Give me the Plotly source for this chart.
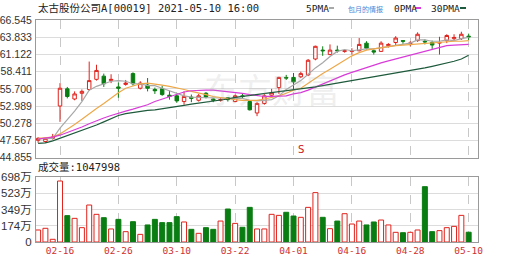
import plotly.graph_objects as go

# ---------------- data ----------------
tick_dates = ["02-16", "02-26", "03-10", "03-22", "04-01", "04-16", "04-28", "05-10"]
tick_index = [3, 11, 19, 27, 35, 43, 51, 59]

open_ = [47.6, 47.4, 47.9, 53.0, 55.7, 54.1, 55.0, 55.6, 57.2, 57.7,
         57.0, 56.0, 56.4, 58.1, 55.8, 56.3, 55.6, 55.7, 54.7, 54.6,
         53.7, 54.4, 53.9, 55.0, 54.1, 53.9, 54.3, 53.7, 54.6, 53.7,
         51.9, 53.4, 54.7, 55.9, 57.5, 57.5, 57.6, 57.9, 60.4, 61.8,
         61.1, 61.8, 61.6, 61.6, 61.7, 62.9, 61.7, 61.6, 62.5, 63.0,
         63.3, 62.8, 63.3, 63.2, 63.0, 62.9, 63.3, 63.6, 63.6, 64.0]
high = [48.1, 48.0, 48.6, 56.6, 56.0, 55.3, 55.6, 60.0, 59.5, 58.1,
        58.0, 56.7, 57.1, 58.3, 56.9, 57.4, 55.9, 56.2, 55.4, 54.9,
        55.3, 54.8, 54.9, 55.2, 54.2, 54.3, 54.4, 54.8, 55.0, 53.9,
        53.6, 54.9, 55.7, 57.6, 57.9, 58.2, 58.4, 60.4, 62.5, 62.4,
        62.7, 62.5, 61.9, 62.1, 63.7, 63.2, 61.9, 63.2, 62.9, 64.0,
        63.3, 63.2, 64.6, 63.5, 63.3, 63.9, 64.3, 64.3, 64.7, 64.4]
low = [47.2, 47.2, 47.7, 50.5, 54.2, 53.9, 53.8, 55.4, 57.0, 56.0,
       56.6, 54.3, 56.2, 56.2, 55.6, 55.3, 54.9, 54.6, 54.0, 53.5,
       53.2, 53.6, 53.7, 54.2, 53.6, 53.7, 53.7, 53.6, 54.2, 52.3,
       51.4, 53.2, 54.4, 54.9, 57.1, 55.6, 57.4, 57.7, 60.2, 60.9,
       61.0, 61.4, 61.4, 61.1, 61.6, 61.9, 61.1, 61.5, 62.2, 62.6,
       62.8, 62.4, 63.1, 62.7, 62.0, 61.1, 62.9, 63.3, 63.4, 63.4]
close = [47.9, 47.9, 48.1, 55.8, 54.5, 54.9, 55.3, 57.0, 58.6, 56.5,
         57.2, 55.8, 56.6, 56.5, 56.6, 55.8, 55.4, 54.8, 54.5, 53.8,
         54.5, 54.2, 54.6, 54.4, 53.9, 54.0, 54.0, 54.6, 54.5, 52.4,
         53.4, 54.6, 55.1, 57.5, 57.4, 56.8, 58.1, 60.2, 62.4, 61.7,
         61.8, 61.7, 61.7, 61.7, 62.7, 62.1, 61.5, 62.9, 62.7, 63.7,
         63.2, 62.9, 64.3, 63.1, 62.6, 63.0, 64.1, 63.8, 64.3, 63.9]

# volume in 万 shares
volume = [129, 147, 29, 655, 283, 254, 154, 397, 297, 261,
          140, 243, 111, 218, 82, 183, 243, 208, 208, 272,
          215, 136, 93, 154, 136, 225, 354, 200, 158, 372,
          140, 140, 297, 286, 319, 279, 265, 372, 530, 265,
          143, 225, 304, 193, 225, 183, 215, 236, 183, 104,
          100, 104, 129, 594, 111, 122, 154, 168, 286, 105]

ma5 = [47.8, 47.8, 47.9, 49.5, 50.8, 52.2, 53.7, 55.5, 56.1, 56.5,
       56.9, 57.0, 56.9, 56.5, 56.5, 56.2, 56.2, 55.8, 55.4, 54.9,
       54.6, 54.4, 54.3, 54.3, 54.3, 54.2, 54.2, 54.2, 54.2, 53.9,
       53.8, 53.9, 54.0, 54.6, 55.6, 56.3, 57.0, 58.0, 59.0, 59.8,
       60.8, 61.6, 61.9, 61.7, 61.9, 62.0, 62.0, 62.2, 62.4, 62.6,
       62.8, 62.9, 63.4, 63.4, 63.2, 63.2, 63.4, 63.3, 63.6, 63.8]
ma10 = [47.9, 48.0, 48.1, 48.6, 49.3, 50.1, 50.9, 51.8, 52.6, 53.4,
        54.3, 55.1, 55.8, 56.2, 56.5, 56.6, 56.5, 56.3, 56.1, 55.9,
        55.6, 55.3, 55.1, 54.8, 54.5, 54.3, 54.2, 54.0, 53.9, 53.9,
        53.9, 54.1, 54.3, 54.6, 55.0, 55.5, 55.8, 56.6, 57.4, 58.1,
        58.8, 59.5, 60.3, 60.9, 61.4, 61.8, 62.0, 62.2, 62.4, 62.5,
        62.6, 62.7, 62.8, 62.9, 63.0, 63.0, 63.1, 63.2, 63.2, 63.3]
ma20 = [47.8, 47.9, 48.1, 48.4, 48.8, 49.3, 49.7, 50.2, 50.7, 51.1,
        51.5, 51.9, 52.2, 52.5, 52.8, 53.2, 53.7, 54.1, 54.5, 54.9,
        55.2, 55.4, 55.5, 55.5, 55.5, 55.4, 55.3, 55.1, 55.0, 54.8,
        54.6, 54.5, 54.5, 54.5, 54.6, 54.9, 55.1, 55.5, 56.0, 56.4,
        56.9, 57.4, 57.9, 58.3, 58.7, 59.1, 59.5, 59.8, 60.1, 60.4,
        60.8, 61.1, 61.4, 61.7, 62.0, 62.3, 62.5, 62.6, 62.7, 62.7]
ma30 = [47.1, 47.2, 47.5, 47.9, 48.3, 48.7, 49.1, 49.6, 50.0, 50.5,
        51.0, 51.5, 51.8, 52.0, 52.1, 52.3, 52.4, 52.55, 52.7, 52.95,
        53.1, 53.3, 53.45, 53.6, 53.7, 53.9, 54.1, 54.35, 54.5, 54.65,
        54.75, 54.9, 55.0, 55.2, 55.3, 55.45, 55.6, 55.8, 56.0, 56.2,
        56.4, 56.6, 56.8, 56.95, 57.1, 57.35, 57.5, 57.7, 57.9, 58.1,
        58.3, 58.5, 58.75, 59.0, 59.25, 59.5, 59.8, 60.05, 60.4, 61.0]

price_ticks = [44.855, 47.567, 50.278, 52.989, 55.700, 58.411, 61.122, 63.833, 66.545]
vol_ticks = [0, 174.5, 349, 523.5, 698]
vol_tick_text = ["0", "174万", "349万", "523万", "698万"]

title_text = "太古股份公司A[00019] 2021-05-10 16:00"
vol_title = "成交量:1047998"

# ---------------- styles ----------------
RED = "#e0221c"
GREEN = "#0a7d12"
idx = list(range(len(close)))

fig = go.Figure()

fig.add_trace(go.Candlestick(
    x=idx, open=open_, high=high, low=low, close=close,
    xaxis="x2", yaxis="y",
    increasing=dict(line=dict(color=RED, width=1), fillcolor="white"),
    decreasing=dict(line=dict(color=GREEN, width=1), fillcolor=GREEN),
    whiskerwidth=0, showlegend=False, hoverinfo="skip"))

for series, col in [(ma5, "#a8a8a8"), (ma10, "#eea848"), (ma20, "#d83cd8"), (ma30, "#1e5a3c")]:
    fig.add_trace(go.Scatter(x=idx, y=series, mode="lines", xaxis="x2", yaxis="y",
                             line=dict(color=col, width=1.2), showlegend=False,
                             hoverinfo="skip"))

vol_line = [RED if c > o else GREEN for o, c in zip(open_, close)]
vol_fill = ["white" if c > o else GREEN for o, c in zip(open_, close)]
fig.add_trace(go.Bar(x=idx, y=volume, xaxis="x", yaxis="y2",
                     marker=dict(color=vol_fill, line=dict(color=vol_line, width=1)),
                     showlegend=False, hoverinfo="skip"))

L, R, T, B = 36, 34, 20, 20
W, H = 512, 262
pw = W - L - R
ph = H - T - B


def px(x):
    return (x - L) / pw


def py(y):
    return (H - B - y) / ph


price_dom = [py(157.7), 1]
vol_dom = [0, py(177)]
xr = [-0.29, 60.28]

grid_h = "#dcdcdc"
grid_v = "#c8c8c8"
border = "#9a9a9a"

fig.update_layout(
    width=W, height=H, template="none",
    margin=dict(l=L, r=R, t=T, b=B, pad=0),
    paper_bgcolor="white", plot_bgcolor="white",
    bargap=0.32, boxgap=0.32,
    xaxis=dict(domain=[0, 1], anchor="y2", range=xr, tickmode="array",
               tickvals=tick_index, ticktext=tick_dates, showgrid=True,
               gridcolor=grid_v, griddash="dash", gridwidth=1,
               showline=True, mirror=True, linecolor=border, linewidth=1,
               ticks="", zeroline=False, automargin=False,
               tickfont=dict(family="DejaVu Sans Mono", size=9.5, color="#d03030")),
    xaxis2=dict(domain=[0, 1], anchor="y", range=xr, matches="x",
                tickmode="array", tickvals=tick_index, showticklabels=False,
                showgrid=True, gridcolor=grid_v, griddash="dash", gridwidth=1,
                showline=True, mirror=True, linecolor=border, linewidth=1,
                ticks="", zeroline=False, rangeslider=dict(visible=False),
                automargin=False),
    yaxis=dict(domain=price_dom, anchor="x2", range=[44.855, 66.545],
               tickmode="array", tickvals=price_ticks,
               ticktext=["%.3f" % v for v in price_ticks],
               showgrid=True, gridcolor=grid_h, gridwidth=1,
               showline=True, mirror=True, linecolor=border, linewidth=1,
               ticks="", zeroline=False, automargin=False, ticklabelstandoff=1,
               tickfont=dict(family="Liberation Sans", size=10.5, color="#333333")),
    yaxis2=dict(domain=vol_dom, anchor="x", range=[0, 698],
                tickmode="array", tickvals=vol_ticks, ticktext=vol_tick_text,
                showgrid=True, gridcolor=grid_h, gridwidth=1,
                showline=True, mirror=True, linecolor=border, linewidth=1,
                ticks="", zeroline=False, automargin=False, ticklabelstandoff=1,
                tickfont=dict(family="Liberation Sans, Noto Sans CJK SC", size=11.5, color="#333333")),
)

mono_cjk = "DejaVu Sans Mono, Noto Sans CJK SC"
ann = [
    dict(text=title_text, x=0, y=py(8), xref="paper", yref="paper", xanchor="left",
         yanchor="middle", showarrow=False, font=dict(family=mono_cjk, size=10.5, color="#222")),
    dict(text="5PMA", x=px(304), y=py(8), xref="paper", yref="paper", xanchor="left",
         yanchor="middle", showarrow=False, font=dict(family="DejaVu Sans Mono", size=9.5, color="#222")),
    dict(text="包月的情报", x=px(346), y=py(9), xref="paper", yref="paper", xanchor="left",
         yanchor="middle", showarrow=False, font=dict(family="Noto Sans CJK SC", size=7, color="#4a88d8")),
    dict(text="0PMA", x=px(392), y=py(8), xref="paper", yref="paper", xanchor="left",
         yanchor="middle", showarrow=False, font=dict(family="DejaVu Sans Mono", size=9.5, color="#222")),
    dict(text="30PMA", x=px(429), y=py(8), xref="paper", yref="paper", xanchor="left",
         yanchor="middle", showarrow=False, font=dict(family="DejaVu Sans Mono", size=9.5, color="#222")),
    dict(text=vol_title, x=px(36), y=py(167), xref="paper", yref="paper", xanchor="left",
         yanchor="middle", showarrow=False, font=dict(family=mono_cjk, size=10.5, color="#222")),
    dict(text="S", x=36, y=46.1, xref="x2", yref="y", xanchor="center", yanchor="middle",
         showarrow=False, font=dict(family="DejaVu Sans", size=10, color="#d02020")),
    dict(text="东方财富", x=px(272), y=py(88), xref="paper", yref="paper", xanchor="center",
         yanchor="middle", showarrow=False,
         font=dict(family="Noto Sans CJK SC", size=34, color="rgba(170,170,170,0.2)")),
]
fig.update_layout(annotations=ann)

shapes = []
for x0, x1, col in [(329, 334, "#a8a8a8"), (415, 421, "#d83cd8"), (460, 466, "#1e5a3c")]:
    shapes.append(dict(type="line", xref="paper", yref="paper", x0=px(x0), x1=px(x1),
                       y0=py(8), y1=py(8), line=dict(color=col, width=2)))
fig.update_layout(shapes=shapes)

fig.write_html("out.html")
